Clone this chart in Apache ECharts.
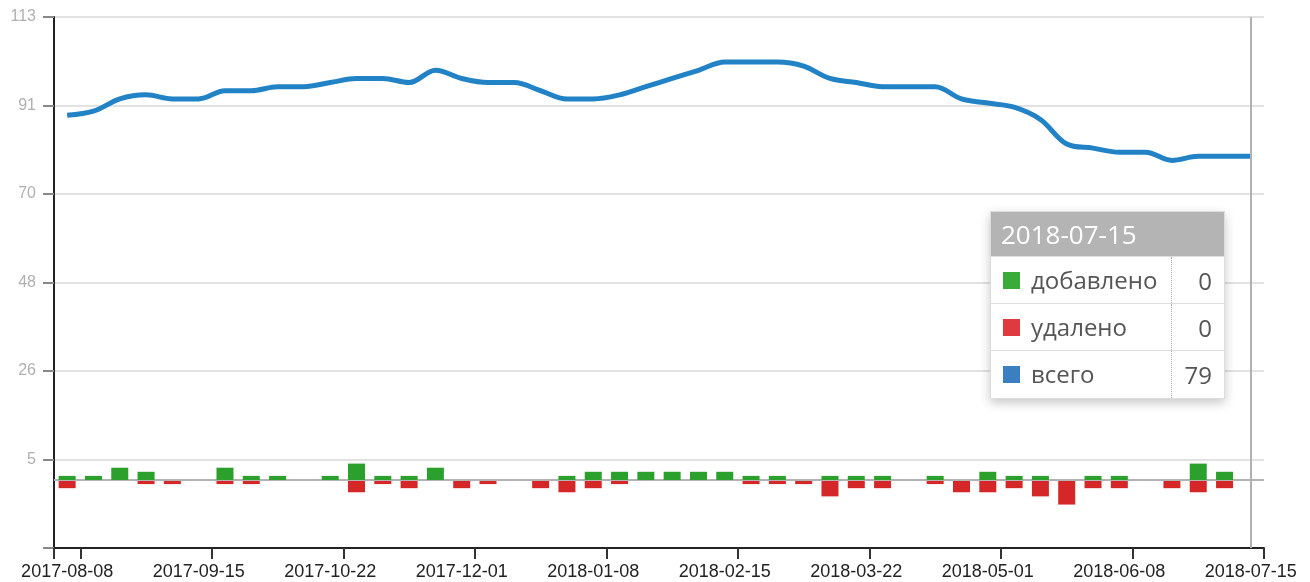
<!DOCTYPE html>
<html>
<head>
<meta charset="utf-8">
<title>members</title>
<script src="https://cdn.jsdelivr.net/npm/echarts@6/dist/echarts.min.js"></script>
<style>
	html, body { margin: 0; padding: 0; background: #fff; }
	#chart { width: 1310px; height: 582px; }
</style>
</head>
<body>
<div id="chart"></div>
<script>
'use strict';

// one entry per point of the line / pair of bars
var dates = [
	'2017-08-08', '2017-08-16', '2017-08-23', '2017-08-31', '2017-09-07',
	'2017-09-15', '2017-09-23', '2017-09-30', '2017-10-07', '2017-10-15',
	'2017-10-22', '2017-10-30', '2017-11-07', '2017-11-15', '2017-11-23',
	'2017-12-01', '2017-12-09', '2017-12-16', '2017-12-24', '2017-12-31',
	'2018-01-08', '2018-01-16', '2018-01-23', '2018-01-31', '2018-02-07',
	'2018-02-15', '2018-02-22', '2018-03-01', '2018-03-08', '2018-03-15',
	'2018-03-22', '2018-03-30', '2018-04-07', '2018-04-15', '2018-04-23',
	'2018-05-01', '2018-05-09', '2018-05-16', '2018-05-24', '2018-05-31',
	'2018-06-08', '2018-06-16', '2018-06-23', '2018-06-30', '2018-07-08',
	'2018-07-15'
];

var added = [1, 1, 3, 2, 0, 0, 3, 1, 1, 0,
	1, 4, 1, 1, 3, 0, 0, 0, 0, 1,
	2, 2, 2, 2, 2, 2, 1, 1, 0, 1,
	1, 1, 0, 1, 0, 2, 1, 1, 0, 1,
	1, 0, 0, 4, 2, 0];

var removed = [2, 0, 0, 1, 1, 0, 1, 1, 0, 0,
	0, 3, 1, 2, 0, 2, 1, 0, 2, 3,
	2, 1, 0, 0, 0, 0, 1, 1, 1, 4,
	2, 2, 0, 1, 3, 3, 2, 4, 6, 2,
	2, 0, 2, 3, 2, 0];

var total = [89, 90, 93, 94, 93, 93, 95, 95, 96, 96,
	97, 98, 98, 97, 100, 98, 97, 97, 95, 93,
	93, 94, 96, 98, 100, 102, 102, 102, 101, 98,
	97, 96, 96, 96, 93, 92, 91, 88, 82, 81,
	80, 80, 78, 79, 79, 79];

var seriesNames = ['добавлено', 'удалено', 'всего'];
var yTickLabels = ['', '5', '26', '48', '70', '91', '113'];
var labelEvery = 5;

var chart = echarts.init(document.getElementById('chart'));

// ticks sit just right of every labelled day, plus both ends of the axis
var tickValues = [-0.5];
for (var i = 0; i < dates.length; i += labelEvery) {
	tickValues.push(i + 0.5);
}

function tooltipHtml(params) {
	var idx = params[0].dataIndex;
	var rows = [
		[seriesNames[0], '#3aaa3a', added[idx]],
		[seriesNames[1], '#e03a3e', removed[idx]],
		[seriesNames[2], '#3a80c0', total[idx]]
	];
	var html = '<div style="width:233px;font-family:\'Open Sans\',sans-serif;color:#555;">' +
		'<div style="background:#b4b4b4;color:#fff;font-size:26px;height:44px;line-height:44px;padding-left:10px;">' +
		dates[idx] + '</div>' +
		'<table style="border-collapse:collapse;width:100%;font-size:24px;">';
	rows.forEach(function (r) {
		html += '<tr style="height:47px;border-top:1px solid #ddd;">' +
			'<td style="padding:0;white-space:nowrap;"><span style="display:inline-block;width:17px;height:17px;background:' + r[1] +
			';margin:0 11px 0 12px;vertical-align:middle;position:relative;top:-2px;"></span>' + r[0] + '</td>' +
			'<td style="padding:0 12px 0 0;width:40px;text-align:right;border-left:1px dotted #aaa;">' + r[2] + '</td></tr>';
	});
	html += '</table></div>';
	return html;
}

var options = {
	animation: false,
	textStyle: { fontFamily: 'Liberation Sans, Arial, sans-serif' },
	grid: { left: 54, right: 46, top: 17, bottom: 34 },
	tooltip: {
		trigger: 'axis',
		showContent: true,
		alwaysShowContent: true,
		transitionDuration: 0,
		padding: 0,
		borderWidth: 1,
		borderColor: '#ddd',
		borderRadius: 0,
		backgroundColor: '#fff',
		extraCssText: 'box-shadow:0 4px 10px rgba(0,0,0,0.22);',
		position: function () { return [990, 211]; },
		axisPointer: {
			type: 'line',
			lineStyle: { color: '#b0b0b0', width: 2, type: 'solid' }
		},
		formatter: tooltipHtml
	},
	xAxis: [
		{
			type: 'category',
			data: dates,
			boundaryGap: true,
			axisLine: { onZero: false, lineStyle: { color: '#222', width: 2 } },
			axisTick: { show: false },
			axisLabel: {
				interval: labelEvery - 1,
				color: '#222',
				fontSize: 18,
				margin: 15
			},
			splitLine: { show: false }
		},
		{
			type: 'value',
			position: 'bottom',
			min: -0.5,
			max: dates.length - 0.5,
			axisLine: { show: false, onZero: false },
			axisLabel: { show: false },
			splitLine: { show: false },
			axisPointer: { show: false },
			axisTick: {
				show: true,
				customValues: tickValues,
				length: 11,
				lineStyle: { color: '#333', width: 2 }
			}
		}
	],
	yAxis: {
		type: 'value',
		min: -16.6,
		max: 113,
		interval: 21.6,
		axisLine: { show: true, onZero: false, lineStyle: { color: '#222', width: 2 } },
		axisTick: { show: true, length: 11, lineStyle: { color: '#888', width: 2 } },
		axisLabel: {
			color: '#b0b0b0',
			fontSize: 16,
			margin: 18,
			formatter: function (v, idx) { return yTickLabels[idx] || ''; }
		},
		splitLine: { lineStyle: { color: '#e2e2e2', width: 2 } }
	},
	series: [
		{
			name: seriesNames[0],
			type: 'bar',
			z: 3,
			barWidth: 17,
			barGap: '-100%',
			itemStyle: { color: '#2ca02c' },
			data: added
		},
		{
			name: seriesNames[1],
			type: 'bar',
			z: 2,
			barWidth: 17,
			barGap: '-100%',
			itemStyle: { color: '#d62728' },
			data: removed.map(function (v) { return -v; }),
			markLine: {
				z: 2.5,
				silent: true,
				symbol: 'none',
				label: { show: false },
				lineStyle: { color: '#b3b3b3', width: 2, type: 'solid' },
				data: [{ yAxis: 0 }]
			}
		},
		{
			name: seriesNames[2],
			type: 'line',
			smooth: 0.35,
			symbol: 'none',
			z: 5,
			lineStyle: { color: '#1f77b4', width: 5 },
			itemStyle: { color: '#1f77b4' },
			data: total
		}
	]
};

chart.setOption(options);
chart.dispatchAction({ type: 'showTip', seriesIndex: 2, dataIndex: dates.length - 1 });
</script>
</body>
</html>
